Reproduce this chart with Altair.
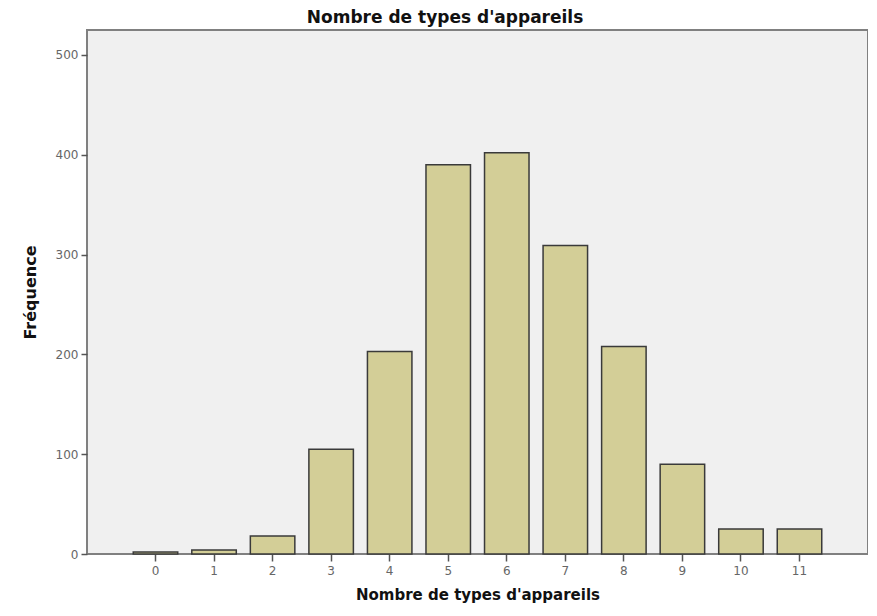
import altair as alt
import pandas as pd

categories = ["0", "1", "2", "3", "4", "5", "6", "7", "8", "9", "10", "11"]
frequencies = [2, 4, 18, 105, 203, 390, 402, 309, 208, 90, 25, 25]

df = pd.DataFrame({"cat": categories, "freq": frequencies})

TFONT = "DejaVu Sans"
LFONT = "DejaVu Sans"

chart = alt.Chart(df).mark_bar(
    color="#D3CE97", stroke="#3a3a3a", strokeWidth=1.5
).encode(
    x=alt.X("cat:O", sort=categories,
            scale=alt.Scale(paddingInner=0.24, paddingOuter=0.79),
            axis=alt.Axis(title="Nombre de types d'appareils", labelAngle=0,
                          tickSize=7, tickColor="#555", tickWidth=1.5,
                          domain=False, labelPadding=4, titlePadding=11,
                          titleFontSize=15)),
    y=alt.Y("freq:Q", scale=alt.Scale(domain=[0, 525], nice=False),
            axis=alt.Axis(title="Fréquence", values=[0, 100, 200, 300, 400, 500],
                          tickSize=6, tickColor="#555", tickWidth=1.5,
                          domain=False, grid=False, labelPadding=3, titlePadding=17)),
).properties(
    width=781, height=524,
    title=alt.TitleParams("Nombre de types d'appareils", fontSize=17, font=TFONT,
                          fontWeight="bold", color="#111", anchor="middle",
                          frame="bounds", offset=3),
    autosize=alt.AutoSizeParams(type="none"),
    padding={"left": 79, "top": 22, "right": 0, "bottom": 54},
).configure_view(
    fill="#F0F0F0", stroke="#808080", strokeWidth=2
).configure_axis(
    labelFont=LFONT, labelFontSize=12, labelColor="#666",
    titleFont=TFONT, titleFontSize=16, titleFontWeight="bold", titleColor="#111",
    grid=False
)

chart.save("out.html", embed_options={"renderer": "svg", "actions": False})
